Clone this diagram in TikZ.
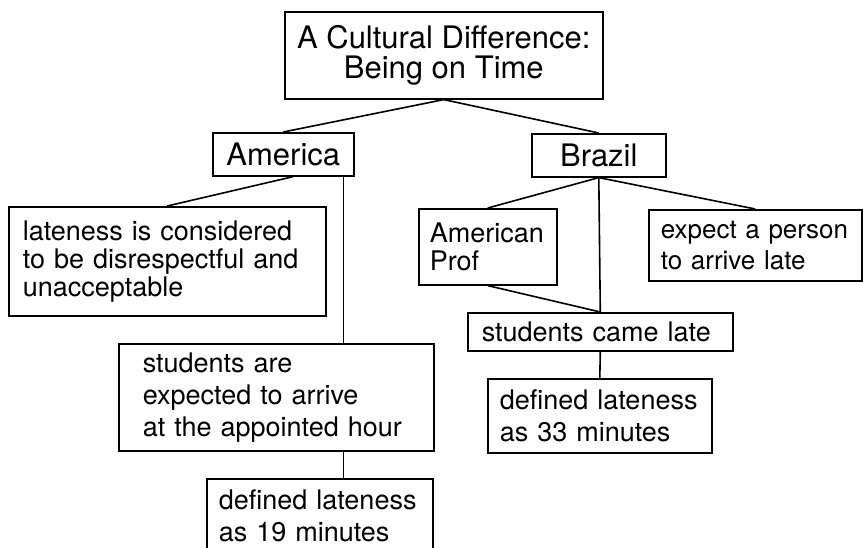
\documentclass[tikz,border=0pt]{standalone}
\usepackage{fontspec}
\setmainfont{TeX Gyre Heros}
\tikzset{
  box/.style={draw, line width=0.8pt, anchor=north west, inner xsep=6pt, inner ysep=0pt,
    align=left, font=\fontsize{13.5}{16}\selectfont},
  tight/.style={font=\fontsize{13.5}{14}\selectfont},
  head/.style={box, align=center, font=\fontsize{15.5}{15}\selectfont},
  link/.style={line width=0.8pt}
}
\begin{document}
\begin{tikzpicture}[x=0.5pt, y=-0.5pt]
\clip (0,0) rectangle (863,547);
\node[head, minimum width=159pt, minimum height=43.5pt] (title) at (284,11) {A Cultural Difference:\\Being on Time};
\node[head, minimum width=70.5pt, minimum height=21.5pt] (america) at (212,132) {America};
\node[head, minimum width=67pt, minimum height=21.5pt] (brazil) at (531,133) {Brazil};
% America side
\node[box, tight, inner xsep=7pt, text width=144.5pt, minimum height=54.5pt] (lateness) at (8,206) {lateness is considered\\to be disrespectful and\\unacceptable};
\node[box, inner xsep=12pt, text width=133.5pt, minimum height=53.5pt] (expected) at (118,343) {students are\\expected to arrive\\at the appointed hour};
\node[box, text width=101pt, minimum height=37.5pt] (def19) at (206,478) {defined lateness\\as 19 minutes};
% Brazil side
\node[box, tight, inner xsep=5.5pt, text width=58pt, minimum height=38pt] (amprof) at (418,208) {American\\Prof};
\node[box, font=\fontsize{13}{15.5}\selectfont, text width=94.5pt, minimum height=35.5pt] (expect) at (648,209) {expect a person\\to arrive late};
\node[box, inner xsep=7pt, text width=118.5pt, minimum height=19pt] (camelate) at (467,312) {students came late};
\node[box, text width=100pt, minimum height=37pt] (def33) at (487,378) {defined lateness\\as 33 minutes};
\coordinate (amleg) at ([xshift=-5.5pt]america.south east);
\draw[link] (title.south) -- (america.north);
\draw[link] (title.south) -- (brazil.north);
\draw[link] ([xshift=5pt]america.south) -- (lateness.north);
\draw[link] (amleg) -- (amleg |- expected.north);
\draw[link] (amleg |- expected.south) -- (amleg |- def19.north);
\draw[link] (brazil.south) -- (amprof.north);
\draw[link] (brazil.south) -- (camelate.north);
\draw[link] (brazil.south) -- (expect.north);
\draw[link] (amprof.south) -- (camelate.north);
\draw[link] (camelate.south) -- (def33.north);
\end{tikzpicture}
\end{document}
